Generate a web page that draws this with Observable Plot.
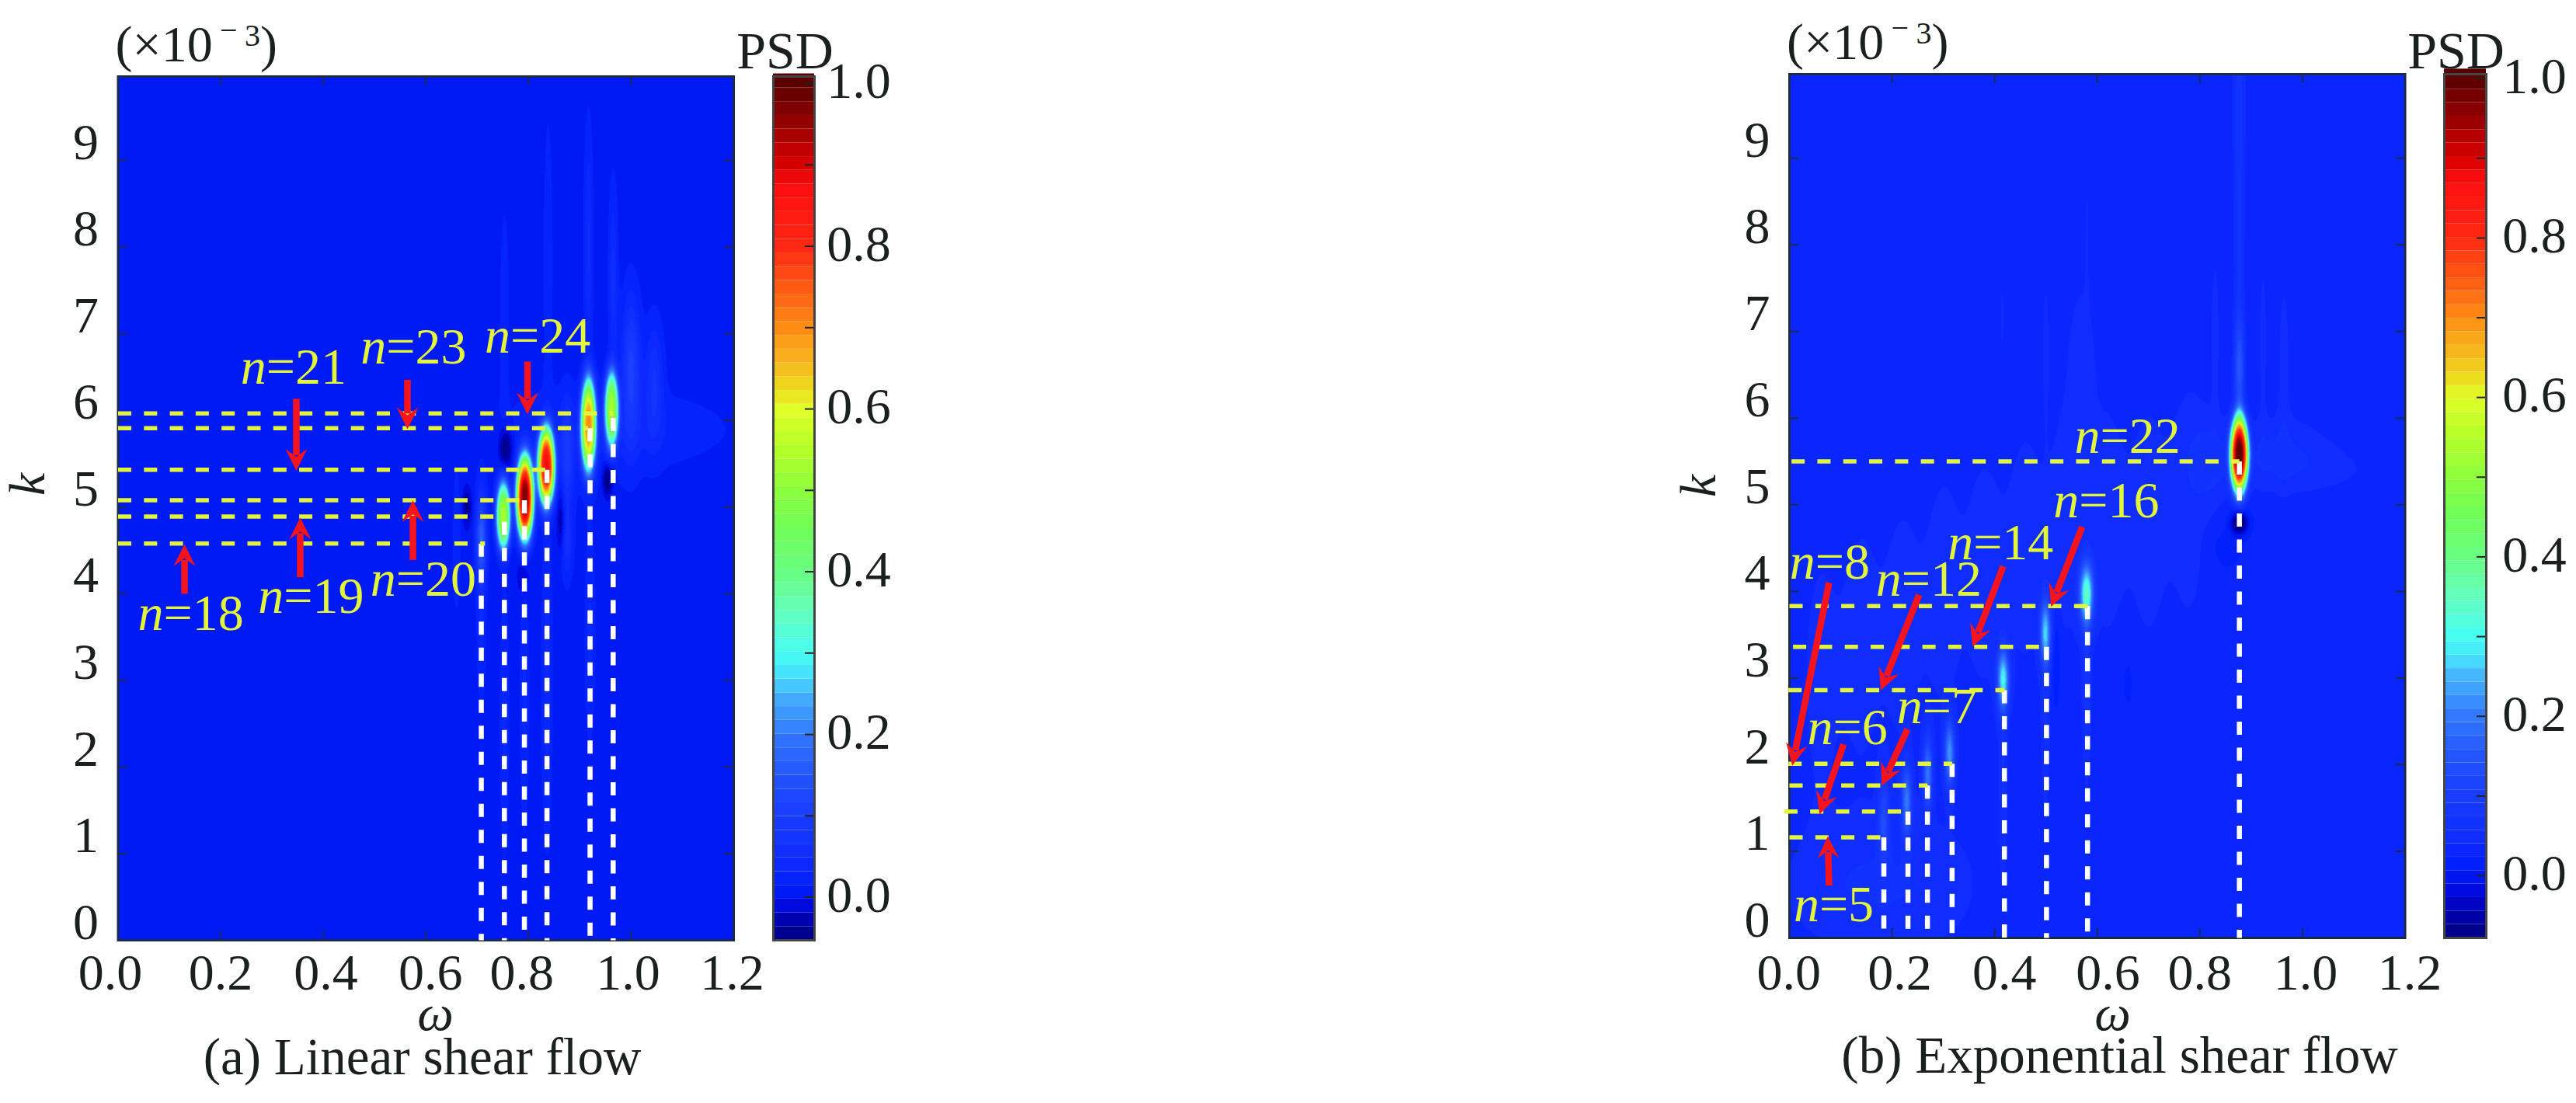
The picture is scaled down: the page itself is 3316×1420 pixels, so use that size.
<!DOCTYPE html>
<html>
<head>
<meta charset="utf-8">
<script src="https://cdn.jsdelivr.net/npm/d3@7"></script>
<script src="https://cdn.jsdelivr.net/npm/@observablehq/plot@0.6"></script>
<style>
html,body{margin:0;padding:0;background:#fff}
#page{position:relative;width:3316px;height:1420px;overflow:hidden;background:#fff}
#page svg{position:absolute;overflow:visible}
</style>
</head>
<body>
<div id="page"></div>
<script>
// ---------- shared axis values ----------
const omegaTicks = [0, 0.2, 0.4, 0.6, 0.8, 1.0, 1.2];
const omegaTickLabels = ["0.0", "0.2", "0.4", "0.6", "0.8", "1.0", "1.2"];
const kTicks = [0, 1, 2, 3, 4, 5, 6, 7, 8, 9];
const barTicks = [0, 0.1, 0.2, 0.3, 0.4, 0.5, 0.6, 0.7, 0.8, 0.9, 1.0];
const barLabels = ["0.0", "0.2", "0.4", "0.6", "0.8", "1.0"];
const barLabelValues = [0, 0.2, 0.4, 0.6, 0.8, 1.0];

// colour bar
const colorValues = [0.01, 0.05, 0.1, 0.15, 0.2, 0.25, 0.27, 0.3, 0.35, 0.4, 0.45, 0.5, 0.55, 0.6, 0.62, 0.65, 0.7, 0.75, 0.8, 0.87, 0.9, 0.92, 0.95, 1.0];
const colorList = ["#001efa", "#0f2dff", "#193cff", "#2355ff", "#3278ff", "#46b4ff", "#46dcff", "#46fff0", "#64ffbe", "#69ff82", "#6eff5a", "#8cff3c", "#b4ff28", "#e1ff28", "#ebe11e", "#f5be1e", "#ff8c14", "#ff5a14", "#ff2814", "#ff0f0f", "#d70000", "#be0000", "#960000", "#5a0000"];
const lowValuesA = [-0.053, -0.03, -0.01];
const lowValuesB = [-0.078, -0.05, -0.02];
const lowColors = ["#00007d", "#0000aa", "#000ae1"];
const levelStep = 0.0169;

// ---------- panel (a): strong spectral peaks ----------
const aOmegaPeak = [0.751, 0.793, 0.8346, 0.917, 0.962];
const aKPeak = [4.90, 5.11, 5.47, 5.95, 6.13];
const aAmpPeak = [0.52, 0.96, 0.85, 0.66, 0.5];
const aWidthOmegaPeak = [0.0141, 0.0166, 0.0164, 0.0148, 0.0136];
const aWidthKPeak = [0.40, 0.475, 0.44, 0.537, 0.444];
// faint peak, ridges, tails and dark spots around the peaks
const aOmegaFaint = [0.708, 0.965, 0.917, 0.838, 0.753, 1.0, 1.045, 0.875, 0.875, 0.753, 0.792, 0.836, 0.92, 0.708, 0.66, 1.0, 0.88, 0.755, 0.68, 0.954, 0.863, 0.79];
const aKFaint = [4.62, 7.6, 8.0, 7.8, 7.2, 6.6, 6.45, 5.6, 4.6, 2.5, 2.8, 3.0, 3.5, 3.5, 4.6, 5.9, 5.7, 5.68, 5.0, 5.32, 4.85, 4.2];
const aAmpFaint = [0.16, 0.05, 0.045, 0.025, 0.025, 0.1, 0.06, 0.07, 0.05, 0.03, 0.03, 0.035, 0.03, 0.03, 0.02, 0.02, 0.014, -0.07, -0.05, -0.07, -0.05, -0.03];
const aSigmaOmegaFaint = [0.007, 0.006, 0.006, 0.006, 0.006, 0.012, 0.012, 0.008, 0.008, 0.006, 0.006, 0.007, 0.007, 0.006, 0.006, 0.14, 0.1, 0.009, 0.006, 0.007, 0.005, 0.008];
const aSigmaKFaint = [0.35, 0.7, 0.9, 1.1, 0.8, 0.55, 0.45, 0.4, 0.3, 1.0, 1.0, 1.2, 0.8, 0.5, 0.6, 0.3, 0.5, 0.17, 0.15, 0.14, 0.25, 0.15];
const aBase = 0.006;

// panel (a) guide lines
const aWhiteOmega = [0.708, 0.753, 0.792, 0.836, 0.920, 0.965];
const aWhiteK = [4.58, 4.83, 5.08, 5.43, 5.91, 6.03];
const aYellowK = [6.08, 5.91, 5.43, 5.08, 4.89, 4.58];
const aYellowStart = [0, 0, 0, 0, 0, 0];
const aYellowEnd = [0.965, 0.916, 0.836, 0.785, 0.74, 0.715];

// panel (a) labels and arrows
const aLabels = ["n=18", "n=19", "n=20", "n=21", "n=23", "n=24"];
const aLabelOmega = [0.1416, 0.376, 0.595, 0.342, 0.576, 0.818];
const aLabelK = [3.77, 3.97, 4.17, 6.61, 6.85, 6.97];
const aTailOmega = [0.1295, 0.355, 0.5747, 0.3474, 0.564, 0.798];
const aTailK = [4.00, 4.19, 4.39, 6.25, 6.47, 6.68];
const aTipOmega = [0.1295, 0.355, 0.5747, 0.3474, 0.564, 0.798];
const aTipK = [4.57, 4.88, 5.08, 5.42, 5.90, 6.07];
const aTickLabelOmega = [-0.015, 0.2, 0.405, 0.609, 0.787, 0.994, 1.197];

// ---------- panel (b): strong peak, soft peaks and ridges ----------
const bOmegaPeak = [0.8768];
const bKPeak = [5.58];
const bAmpPeak = [0.95];
const bWidthOmegaPeak = [0.0172];
const bWidthKPeak = [0.43];
const bOmegaFaint = [0.579, 0.499, 0.4166, 0.312, 0.2695, 0.2285, 0.1836,
  0.8768, 0.8768, 0.8768, 0.8768, 0.83, 0.923, 0.964, 0.95, 0.82, 0.52, 0.415, 0.5, 0.58, 1.16, 1.07, 0.57,
  0.579, 0.499, 0.4166, 0.85, 0.66, 0.06, 0.14, 0.22, 0.30, 0.38, 0.46, 0.54, 0.62, 0.70, 0.78, 0.1, 0.25, 1.05];
const bKFaint = [3.97, 3.52, 2.98, 2.13, 1.90, 1.58, 1.37,
  4.79, 6.57, 8.3, 9.8, 7.0, 6.9, 6.6, 5.6, 5.5, 3.2, 7.2, 6.95, 8.35, 6.8, 6.5, 6.8,
  3.0, 2.6, 2.0, 4.5, 3.0, 3.0, 3.4, 3.6, 4.0, 4.2, 4.5, 4.8, 4.8, 4.8, 5.0, 0.6, 0.6, 5.4];
const bAmpFaint = [0.29, 0.22, 0.25, 0.19, 0.16, 0.16, 0.09,
  -0.14, 0.11, 0.04, 0.02, 0.02, 0.02, 0.02, 0.03, 0.03, -0.03, 0.015, 0.015, 0.012, 0.012, 0.012, 0.015,
  0.04, 0.03, 0.03, -0.015, -0.012, 0.018, 0.018, 0.018, 0.018, 0.018, 0.018, 0.018, 0.018, 0.018, 0.018, 0.02, 0.02, 0.012];
const bSigmaOmegaFaint = [0.0095, 0.0072, 0.008, 0.007, 0.0065, 0.007, 0.0075,
  0.011, 0.007, 0.007, 0.01, 0.006, 0.006, 0.009, 0.07, 0.03, 0.005, 0.003, 0.005, 0.004, 0.005, 0.012, 0.02,
  0.006, 0.006, 0.006, 0.02, 0.012, 0.03, 0.03, 0.03, 0.03, 0.03, 0.03, 0.03, 0.03, 0.03, 0.03, 0.1, 0.1, 0.1];
const bSigmaKFaint = [0.24, 0.26, 0.24, 0.26, 0.28, 0.28, 0.36,
  0.085, 0.4, 1.2, 0.6, 0.7, 0.7, 0.8, 0.3, 0.35, 0.35, 0.35, 0.6, 0.7, 0.4, 0.35, 0.7,
  0.8, 0.8, 0.8, 0.15, 0.35, 1.3, 1.3, 1.3, 1.3, 1.3, 1.3, 1.3, 1.3, 1.3, 1.3, 0.5, 0.6, 0.2];
const bBase = 0.028;

const bWhiteOmega = [0.184, 0.231, 0.269, 0.317, 0.419, 0.501, 0.581, 0.877];
const bWhiteK = [1.16, 1.46, 1.76, 2.01, 2.86, 3.36, 3.83, 5.50];
const bYellowK = [1.16, 1.46, 1.76, 2.01, 2.86, 3.36, 3.83, 5.50];
const bYellowStart = [0, -0.01, 0, -0.002, -0.002, 0.007, 0, 0.004];
const bYellowEnd = [0.184, 0.231, 0.269, 0.317, 0.419, 0.49, 0.581, 0.877];

const bLabels = ["n=5", "n=6", "n=7", "n=8", "n=12", "n=14", "n=16", "n=22"];
const bLabelOmega = [0.0863, 0.113, 0.2875, 0.0787, 0.2716, 0.4115, 0.6175, 0.659];
const bLabelK = [0.38, 2.43, 2.67, 4.34, 4.14, 4.56, 5.04, 5.79];
const bTailOmega = [0.0772, 0.1055, 0.23, 0.0772, 0.2527, 0.4166, 0.5705];
const bTailK = [0.605, 2.236, 2.41, 4.10, 3.96, 4.29, 4.745];
const bTipOmega = [0.0746, 0.0586, 0.18, 0.0056, 0.178, 0.357, 0.51];
const bTipK = [1.172, 1.428, 1.758, 1.99, 2.857, 3.36, 3.824];
const bTickLabelOmega = [-0.001, 0.215, 0.419, 0.621, 0.8, 1.006, 1.209];

// ---------- drawing ----------
const FONT = '"Liberation Serif", serif';
const INK = "#1a1f1f";
const YELLOW = "#e2f53a";
const PLOT_W = 792.5, PLOT_H = 1112, KMAX = 9.97, FS = 66;
const pxW = PLOT_W / 1.2, pxK = 111.5;

const head = {
  draw(ctx, size) {
    const s = Math.sqrt(size / Math.PI) / 14;
    ctx.moveTo(0, 0);
    ctx.lineTo(14 * s, 28 * s);
    ctx.lineTo(0, 18 * s);
    ctx.lineTo(-14 * s, 28 * s);
    ctx.closePath();
  }
};

function makeLevels(lowValues) {
  const vmin = lowValues[0];
  const vals = [...lowValues, ...colorValues];
  const cols = [...lowColors, ...colorList];
  const color = d3.scaleLinear().domain(vals).range(cols).interpolate(d3.interpolateRgb).clamp(true);
  const edges = d3.range(vmin + levelStep, 1.01, levelStep);
  const bins = [vmin, ...edges, 1.012];
  const mids = d3.pairs(bins, (a, b) => (a + b) / 2);
  return {bins, edges, range: mids.map(color)};
}

function makeField(o, k, a, wo, wk, o2, k2, a2, so2, sk2, base) {
  const n = o.length, n2 = o2.length;
  return (x, y) => {
    let v = base;
    for (let i = 0; i < n; ++i) {
      const dx = (x - o[i]) / wo[i];
      if (dx > 3 || dx < -3) continue;
      const dy = (y - k[i]) / wk[i];
      v += a[i] * Math.exp(-Math.pow(dx * dx + dy * dy, 1.5));
    }
    for (let i = 0; i < n2; ++i) {
      const dx = (x - o2[i]) / so2[i];
      if (dx > 5 || dx < -5) continue;
      const dy = (y - k2[i]) / sk2[i];
      v += a2[i] * Math.exp(-0.5 * (dx * dx + dy * dy));
    }
    return v;
  };
}

function place(svg, left) {
  svg.style.left = left + "px";
  svg.style.top = "0px";
  document.getElementById("page").appendChild(svg);
  svg.querySelectorAll("text").forEach((t) => {
    const s = t.textContent;
    if (/^n=/.test(s)) {
      t.textContent = "";
      const it = document.createElementNS("http://www.w3.org/2000/svg", "tspan");
      it.setAttribute("font-style", "italic");
      it.textContent = "n";
      t.appendChild(it);
      t.appendChild(document.createTextNode(s.slice(1)));
    }
  });
}

function panel(c) {
  const {left, frameLeft, frameTop} = c;
  const W = 1658;
  const ml = frameLeft - left;
  const lv = makeLevels(c.low);
  const tickK = 12 / pxK, tickW = 12 / pxW;
  const idx = (arr) => arr.map((_, i) => i);
  const arrows = idx(c.tailO).map((i) => {
    const dx = (c.tipO[i] - c.tailO[i]) * pxW, dy = -(c.tipK[i] - c.tailK[i]) * pxK;
    const len = Math.hypot(dx, dy), f = 1 - 20 / len;
    return {x1: c.tailO[i], y1: c.tailK[i], x2: c.tailO[i] + (c.tipO[i] - c.tailO[i]) * f, y2: c.tailK[i] + (c.tipK[i] - c.tailK[i]) * f,
      tx: c.tipO[i], ty: c.tipK[i], rot: Math.atan2(dx, -dy) * 180 / Math.PI};
  });
  const t = (s, o) => Plot.text([s], {text: (d) => d, fontSize: FS, fill: INK, frameAnchor: "top-left", lineAnchor: "bottom", textAnchor: "start", ...o});
  const svg = Plot.plot({
    width: W, height: 1420,
    marginLeft: ml, marginRight: W - ml - PLOT_W, marginTop: frameTop, marginBottom: 1420 - frameTop - PLOT_H,
    x: {domain: [0, 1.2], axis: null},
    y: {domain: [0, KMAX], axis: null},
    color: {type: "threshold", domain: lv.edges, range: lv.range},
    style: {fontFamily: FONT, background: "transparent", maxWidth: "none", height: "1420px"},
    marks: [
      Plot.raster({x1: 0, x2: 1.2, y1: 0, y2: KMAX, pixelSize: 1, fill: c.field}),
      // inward ticks on all four sides
      Plot.ruleX(omegaTicks, {x: (d) => d, y1: 0, y2: tickK, stroke: "#1c2a5a", strokeWidth: 2}),
      Plot.ruleX(omegaTicks, {x: (d) => d, y1: KMAX - tickK, y2: KMAX, stroke: "#1c2a5a", strokeWidth: 2}),
      Plot.ruleY(kTicks, {y: (d) => d, x1: 0, x2: tickW, stroke: "#1c2a5a", strokeWidth: 2}),
      Plot.ruleY(kTicks, {y: (d) => d, x1: 1.2 - tickW, x2: 1.2, stroke: "#1c2a5a", strokeWidth: 2}),
      Plot.frame({stroke: "#1c2a4a", strokeWidth: 3}),
      // guide lines
      Plot.link(idx(c.whiteO), {x1: (i) => c.whiteO[i], x2: (i) => c.whiteO[i], y1: (i) => c.whiteK[i], y2: 0, stroke: "#fff", strokeWidth: 6.5, strokeDasharray: "17,16.5"}),
      Plot.link(idx(c.yellowK), {x1: (i) => c.yellowStart[i], x2: (i) => c.yellowEnd[i], y1: (i) => c.yellowK[i], y2: (i) => c.yellowK[i], stroke: YELLOW, strokeWidth: 5.5, strokeDasharray: "17,16.3"}),
      // arrows
      Plot.link(arrows, {x1: "x1", y1: "y1", x2: "x2", y2: "y2", stroke: "#f5141e", strokeWidth: 8.5}),
      Plot.dot(arrows, {x: "tx", y: "ty", r: 14, symbol: head, rotate: "rot", fill: "#f5141e", stroke: "none"}),
      // n labels
      Plot.text(idx(c.labels), {x: (i) => c.labelO[i], y: (i) => c.labelK[i], text: (i) => c.labels[i], fontSize: 66, fill: YELLOW, textAnchor: "middle"}),
      // tick labels
      Plot.text(kTicks, {x: 0, y: (d) => d, dx: -41.5, dy: -23, text: (d) => String(d), fontSize: FS, fill: INK, textAnchor: "middle"}),
      Plot.text(idx(omegaTicks), {x: (i) => c.tickLabelO[i], y: 0, dy: c.xTickDy, text: (i) => omegaTickLabels[i], fontSize: FS, fill: INK, textAnchor: "middle"}),
      // title block
      t("(×10", {dx: -3.5, dy: -20}),
      t("−", {dx: 131, dy: -47, fontSize: 40}),
      t("3", {dx: 163, dy: -40, fontSize: 40}),
      t(")", {dx: 183, dy: -20}),
      // axis labels
      t("ω", {dx: c.omegaX, dy: PLOT_H + c.omegaDy, textAnchor: "middle", fontStyle: "italic"}),
      t("k", {dx: -95.5, dy: c.kDy, textAnchor: "middle", fontStyle: "italic", rotate: -90}),
      // caption
      t(c.caption, {dx: c.captionX, dy: PLOT_H + c.captionDy, textAnchor: "middle", fontSize: 67})
    ]
  });
  place(svg, left);

  // colour bar
  const bw = c.barW, bl = c.barLeft, bLeftSvg = bl - 40;
  const barW = 300;
  const rects = d3.pairs(lv.bins).map(([a, b]) => ({a, b, mid: (a + b) / 2}));
  const bar = Plot.plot({
    width: barW, height: 1420,
    marginLeft: 40, marginRight: barW - 40 - bw, marginTop: frameTop, marginBottom: 1420 - frameTop - PLOT_H,
    x: {domain: [0, 1], axis: null},
    y: {domain: [c.low[0], c.barTop], axis: null},
    color: {type: "threshold", domain: lv.edges, range: lv.range},
    style: {fontFamily: FONT, background: "transparent", maxWidth: "none", height: "1420px"},
    marks: [
      Plot.rect(rects, {x1: 0, x2: 1, y1: "a", y2: "b", fill: "mid"}),
      Plot.ruleY(barTicks, {y: (d) => d, x1: 1 - 12 / bw, x2: 1, stroke: "#222", strokeWidth: 2}),
      Plot.frame({stroke: "#444", strokeWidth: 3}),
      Plot.text(barLabelValues.map((_, i) => i), {x: 1, y: (i) => barLabelValues[i], dx: c.barLabelDx, dy: -2.5, text: (i) => barLabels[i], fontSize: FS, fill: INK, textAnchor: "middle"}),
      Plot.text(["PSD"], {text: (d) => d, fontSize: 68, fill: INK, frameAnchor: "top-left", lineAnchor: "bottom", textAnchor: "middle", dx: c.psdX, dy: c.psdDy})
    ]
  });
  place(bar, bLeftSvg);
}

panel({
  left: 0, frameLeft: 151.5, frameTop: 98, low: lowValuesA, barTop: 1.0087,
  field: makeField(aOmegaPeak, aKPeak, aAmpPeak, aWidthOmegaPeak, aWidthKPeak, aOmegaFaint, aKFaint, aAmpFaint, aSigmaOmegaFaint, aSigmaKFaint, aBase),
  whiteO: aWhiteOmega, whiteK: aWhiteK, yellowK: aYellowK, yellowStart: aYellowStart, yellowEnd: aYellowEnd,
  labels: aLabels, labelO: aLabelOmega, labelK: aLabelK,
  tailO: aTailOmega, tailK: aTailK, tipO: aTipOmega, tipK: aTipK, tickLabelO: aTickLabelOmega,
  xTickDy: 42.5, omegaX: 408.5, omegaDy: 115, kDy: 525, caption: "(a) Linear shear flow", captionX: 391.5, captionDy: 172,
  barW: 53, barLeft: 995, barLabelDx: 57, psdX: 15, psdDy: -11
});
panel({
  left: 1658, frameLeft: 2303, frameTop: 95, low: lowValuesB, barTop: 1.0055,
  field: makeField(bOmegaPeak, bKPeak, bAmpPeak, bWidthOmegaPeak, bWidthKPeak, bOmegaFaint, bKFaint, bAmpFaint, bSigmaOmegaFaint, bSigmaKFaint, bBase),
  whiteO: bWhiteOmega, whiteK: bWhiteK, yellowK: bYellowK, yellowStart: bYellowStart, yellowEnd: bYellowEnd,
  labels: bLabels, labelO: bLabelOmega, labelK: bLabelK,
  tailO: bTailOmega, tailK: bTailK, tipO: bTipOmega, tipK: bTipK, tickLabelO: bTickLabelOmega,
  xTickDy: 45, omegaX: 416, omegaDy: 118, kDy: 530, caption: "(b) Exponential shear flow", captionX: 425, captionDy: 173,
  barW: 54, barLeft: 3146, barLabelDx: 62, psdX: 15, psdDy: -8
});
</script>
</body>
</html>
